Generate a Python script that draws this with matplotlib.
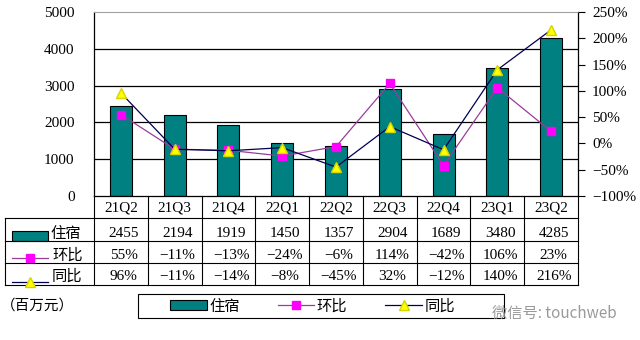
import matplotlib
matplotlib.use("Agg")
import matplotlib.pyplot as plt
from matplotlib.patches import Rectangle
from matplotlib.lines import Line2D
import numpy as np

quarters = ["21Q2", "21Q3", "21Q4", "22Q1", "22Q2", "22Q3", "22Q4", "23Q1", "23Q2"]
lodging = [2455, 2194, 1919, 1450, 1357, 2904, 1689, 3480, 4285]   # 住宿, 百万元
qoq = [55, -11, -13, -24, -6, 114, -42, 106, 23]                   # 环比, %
yoy = [96, -11, -14, -8, -45, 32, -12, 140, 216]                   # 同比, %
left_ticks = [0, 1000, 2000, 3000, 4000, 5000]
right_ticks = [-100, -50, 0, 50, 100, 150, 200, 250]

TEAL = "#008080"
MAGENTA = "#FF00FF"
PURPLE = "#9A3C9A"
NAVY = "#000050"
YELLOW = "#FFFF00"

num_font = ["Liberation Serif", "Noto Sans CJK SC"]
cjk_font = ["Noto Sans CJK SC", "DejaVu Sans"]
FS = 11

W, H = 640, 340
fig = plt.figure(figsize=(6.4, 3.4), dpi=100)


def fx(px):
    return px / W


def fy(py):
    return 1 - py / H


def pct(v):
    return f"{v}%".replace("-", "\u2212")


# main axes (bars)
ax = fig.add_axes([fx(94), fy(196), fx(578) - fx(94), fy(12) - fy(196)])
x = np.arange(len(quarters))
ax.bar(x, lodging, width=0.41, color=TEAL, edgecolor="black", linewidth=0.8, zorder=2)
ax.set_xlim(-0.5, len(quarters) - 0.5)
ax.set_ylim(left_ticks[0], left_ticks[-1])
ax.set_yticks(left_ticks)
for t in left_ticks[1:-1]:
    ax.axhline(t, color="black", linewidth=0.9, zorder=0)
ax.set_xticks([])
ax.tick_params(axis="y", length=0, pad=14, labelsize=FS)
for lab in ax.get_yticklabels():
    lab.set_fontfamily(num_font)
ax.spines["top"].set_color("#A0A0A0")
for s in ["left", "right", "bottom"]:
    ax.spines[s].set_color("black")
    ax.spines[s].set_linewidth(0.9)

# right axes (percent lines)
ax2 = ax.twinx()
ax2.set_ylim(right_ticks[0], right_ticks[-1])
ax2.set_yticks(right_ticks)
ax2.set_yticklabels([pct(v) for v in right_ticks], fontfamily=num_font, fontsize=FS)
ax2.tick_params(axis="y", length=5, width=0.8, pad=5, direction="out")
for s in ax2.spines.values():
    s.set_visible(False)
ax2.plot(x, qoq, color=PURPLE, linewidth=0.9, marker="s", markersize=6,
         markerfacecolor=MAGENTA, markeredgecolor=MAGENTA, zorder=3)
ax2.plot(x, yoy, color=NAVY, linewidth=0.9, marker="^", markersize=7.5,
         markerfacecolor=YELLOW, markeredgecolor="#D4D400", zorder=4)

# data table under the chart
unit = (578 - 94) / len(quarters)
xl = -0.5 - (94 - 5) / unit
tax = fig.add_axes([fx(5), fy(285), fx(578) - fx(5), fy(196) - fy(285)])
tax.set_xlim(xl, len(quarters) - 0.5)
tax.set_ylim(0, 4)
tax.axis("off")


def dx(px):
    return -0.5 + (px - 94) / unit


lk = dict(color="black", linewidth=0.8, clip_on=False)
for yy in [0, 1, 2, 3]:
    tax.plot([xl, len(quarters) - 0.5], [yy, yy], **lk)
for k in range(len(quarters) + 1):
    tax.plot([k - 0.5, k - 0.5], [0, 4], **lk)
tax.plot([xl, xl], [0, 3], **lk)

for i, q in enumerate(quarters):
    tax.text(i, 3.45, q, ha="center", va="center", fontsize=FS, fontfamily=num_font)
    tax.text(i + 0.05, 2.33, str(lodging[i]), ha="center", va="center", fontsize=FS, fontfamily=num_font)
    tax.text(i + 0.05, 1.33, pct(qoq[i]), ha="center", va="center", fontsize=FS, fontfamily=num_font)
    tax.text(i + 0.05, 0.38, pct(yoy[i]), ha="center", va="center", fontsize=FS, fontfamily=num_font)

# row headers with their keys
tax.add_patch(Rectangle((dx(12), 2.0), dx(48) - dx(12), 0.42, facecolor=TEAL,
                        edgecolor="black", linewidth=0.8, clip_on=False))
tax.text(dx(50), 2.33, "住宿", ha="left", va="center", fontsize=FS, fontfamily=cjk_font)
tax.plot([dx(12), dx(30), dx(48)], [1.22] * 3, color=PURPLE, linewidth=0.9, marker="s",
         markersize=6, markevery=[1], markerfacecolor=MAGENTA, markeredgecolor=MAGENTA, clip_on=False)
tax.text(dx(52), 1.33, "环比", ha="left", va="center", fontsize=FS, fontfamily=cjk_font)
tax.plot([dx(12), dx(30), dx(48)], [0.15] * 3, color=NAVY, linewidth=0.9, marker="^",
         markersize=7.5, markevery=[1], markerfacecolor=YELLOW, markeredgecolor="#D4D400", clip_on=False)
tax.text(dx(52), 0.38, "同比", ha="left", va="center", fontsize=FS, fontfamily=cjk_font)

# legend: box drawn separately so the padding can differ from the entries
fig.patches.append(Rectangle((fx(138), fy(318)), fx(504) - fx(138), fy(294) - fy(318),
                             transform=fig.transFigure, facecolor="white",
                             edgecolor="black", linewidth=0.8, zorder=1))
handles = [
    Rectangle((0, 0), 1, 1, facecolor=TEAL, edgecolor="black", linewidth=0.8),
    Line2D([], [], color=PURPLE, linewidth=0.9, marker="s", markersize=6,
           markerfacecolor=MAGENTA, markeredgecolor=MAGENTA),
    Line2D([], [], color=NAVY, linewidth=0.9, marker="^", markersize=7.5,
           markerfacecolor=YELLOW, markeredgecolor="#D4D400"),
]
leg = fig.legend(handles, ["住宿", "环比", "同比"], loc="center left",
                 bbox_to_anchor=(fx(170), fy(306)), ncol=3, frameon=False,
                 handlelength=2.4, handleheight=0.6, handletextpad=0.15,
                 columnspacing=2.5, borderpad=0, borderaxespad=0,
                 prop={"family": cjk_font, "size": FS})

fig.text(fx(1), fy(306), "（百万元）", ha="left", va="center", fontsize=10.5, fontfamily=cjk_font)
fig.text(fx(492), fy(313), "微信号: touchweb", ha="left", va="center", fontsize=11,
         fontfamily=cjk_font, color="#9A9A9A", zorder=10)

fig.savefig("out.png", dpi=100)
